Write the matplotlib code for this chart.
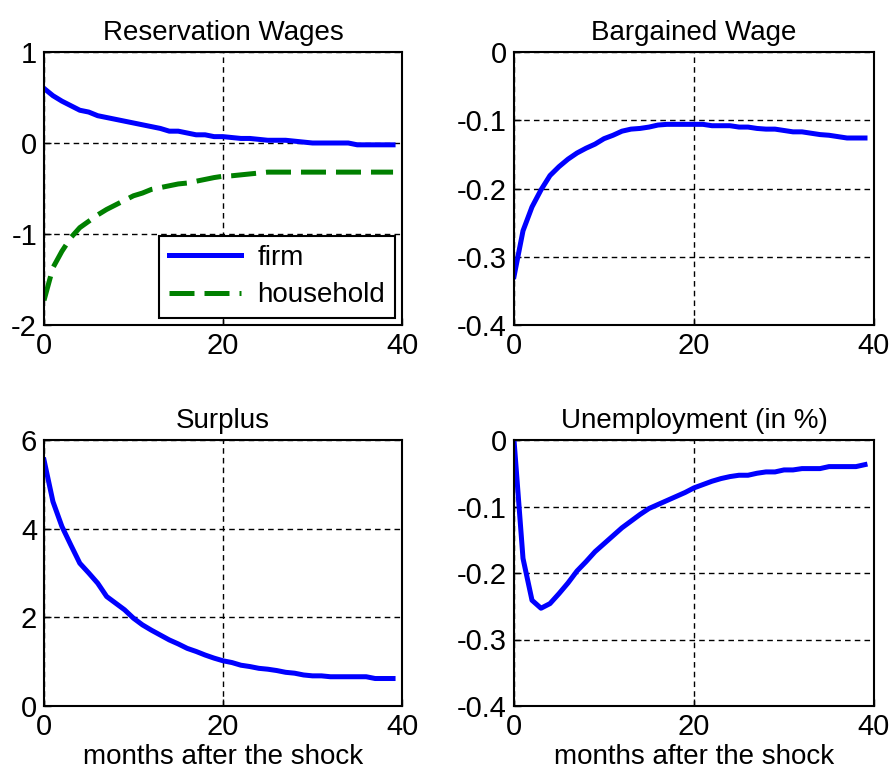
import matplotlib
matplotlib.use("Agg")
import matplotlib.pyplot as plt
import numpy as np

plt.rcParams['font.family'] = ['Liberation Sans', 'DejaVu Sans']
plt.rcParams['axes.unicode_minus'] = False

months = np.arange(40)

# reservation wages
res_firm = [0.60, 0.52, 0.46, 0.41, 0.36, 0.34, 0.30, 0.28, 0.26, 0.24,
            0.22, 0.20, 0.18, 0.16, 0.13, 0.13, 0.11, 0.09, 0.09, 0.07,
            0.07, 0.06, 0.05, 0.05, 0.04, 0.03, 0.03, 0.03, 0.02, 0.01,
            0.00, 0.00, 0.00, 0.00, 0.00, -0.02, -0.02, -0.02, -0.02, -0.02]
res_household = [-1.73, -1.37, -1.19, -1.04, -0.93, -0.86, -0.79, -0.73, -0.68, -0.63,
                 -0.58, -0.55, -0.51, -0.49, -0.47, -0.45, -0.44, -0.42, -0.40, -0.38,
                 -0.365, -0.36, -0.35, -0.34, -0.33, -0.32, -0.32, -0.32, -0.32, -0.32,
                 -0.32, -0.32, -0.32, -0.32, -0.32, -0.32, -0.32, -0.32, -0.32, -0.32]

# bargained wage
wage = [-0.329, -0.262, -0.227, -0.202, -0.181, -0.168, -0.157, -0.148, -0.141, -0.135,
        -0.127, -0.122, -0.116, -0.113, -0.112, -0.110, -0.107, -0.106, -0.106, -0.106,
        -0.106, -0.106, -0.108, -0.108, -0.108, -0.110, -0.110, -0.112, -0.113, -0.113,
        -0.115, -0.117, -0.117, -0.119, -0.121, -0.122, -0.124, -0.126, -0.126, -0.126]

# surplus
surplus = [5.55, 4.61, 4.05, 3.63, 3.22, 3.00, 2.77, 2.47, 2.32, 2.17,
           1.98, 1.83, 1.71, 1.60, 1.49, 1.40, 1.30, 1.23, 1.15, 1.08,
           1.02, 0.98, 0.92, 0.89, 0.85, 0.83, 0.80, 0.76, 0.74, 0.70,
           0.68, 0.68, 0.66, 0.66, 0.66, 0.66, 0.66, 0.62, 0.62, 0.62]

# unemployment (in %)
unemp = [0.0, -0.178, -0.241, -0.253, -0.246, -0.231, -0.215, -0.197, -0.183, -0.168,
         -0.156, -0.144, -0.132, -0.122, -0.112, -0.103, -0.097, -0.091, -0.085, -0.079,
         -0.072, -0.067, -0.062, -0.058, -0.055, -0.053, -0.053, -0.050, -0.048, -0.048,
         -0.045, -0.045, -0.043, -0.043, -0.043, -0.040, -0.040, -0.040, -0.040, -0.037]

blue = '#0000ff'
green = '#008000'
lw = 3.6
tick_fs = 21
title_fs = 20
label_fs = 20

fig = plt.figure(figsize=(8.94, 7.82), dpi=100)
W, H = 894, 782

def make_ax(l, r, t, b):
    ax = fig.add_axes([l / W, 1 - b / H, (r - l) / W, (b - t) / H])
    for s in ax.spines.values():
        s.set_linewidth(1.5)
    ax.tick_params(direction='in', labelsize=tick_fs, length=5, width=1, pad=5)
    ax.set_xlim(0, 40)
    ax.set_xticks([0, 20, 40])
    ax.grid(True, color='black', linestyle=(0, (4, 3)), linewidth=1)
    return ax

ax1 = make_ax(44, 402, 52, 325)
ax1.plot(months, res_firm, color=blue, lw=lw, label='firm')
ax1.plot(months, res_household, color=green, lw=lw, ls=(0, (5, 2)), label='household')
ax1.set_ylim(-2, 1)
ax1.set_yticks([-2, -1, 0, 1])
ax1.set_title('Reservation Wages', fontsize=title_fs, pad=9)
leg = ax1.legend(loc='lower right', fontsize=20, fancybox=False, framealpha=1,
                 edgecolor='black', handlelength=2.6, borderaxespad=0.25,
                 labelspacing=0.4, handletextpad=0.6, borderpad=0.35)
leg.get_frame().set_linewidth(1.5)

ax2 = make_ax(514, 874, 52, 325)
ax2.plot(months, wage, color=blue, lw=lw)
ax2.set_ylim(-0.4, 0)
ax2.set_yticks([-0.4, -0.3, -0.2, -0.1, 0])
ax2.set_yticklabels(['-0.4', '-0.3', '-0.2', '-0.1', '0'])
ax2.set_title('Bargained Wage', fontsize=title_fs, pad=9)

ax3 = make_ax(44, 402, 440, 706)
ax3.plot(months, surplus, color=blue, lw=lw)
ax3.set_ylim(0, 6)
ax3.set_yticks([0, 2, 4, 6])
ax3.set_title('Surplus', fontsize=title_fs, pad=9)
ax3.set_xlabel('months after the shock', fontsize=label_fs, labelpad=2)

ax4 = make_ax(514, 874, 440, 706)
ax4.plot(months, unemp, color=blue, lw=lw)
ax4.set_ylim(-0.4, 0)
ax4.set_yticks([-0.4, -0.3, -0.2, -0.1, 0])
ax4.set_yticklabels(['-0.4', '-0.3', '-0.2', '-0.1', '0'])
ax4.set_title('Unemployment (in %)', fontsize=title_fs, pad=9)
ax4.set_xlabel('months after the shock', fontsize=label_fs, labelpad=2)

fig.savefig('out.png', dpi=100)
